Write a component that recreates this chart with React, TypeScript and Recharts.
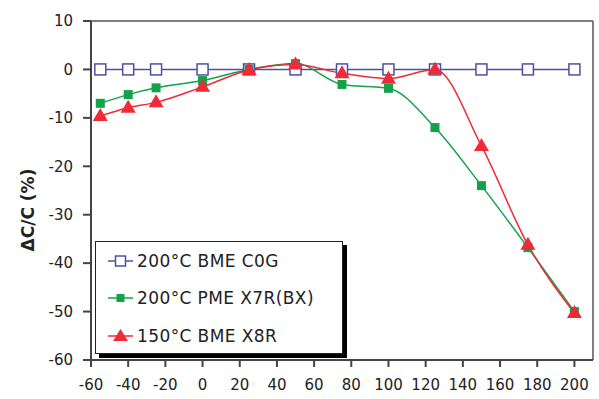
import React from "react";
import {
  LineChart,
  Line,
  XAxis,
  YAxis,
  ReferenceLine,
} from "recharts";

const temps = [-55, -40, -25, 0, 25, 50, 75, 100, 125, 150, 175, 200];
const c0g = [0, 0, 0, 0, 0, 0, 0, 0, 0, 0, 0, 0];
const x7r = [-7, -5.2, -3.8, -2.3, 0, 1.2, -3.1, -3.9, -12, -24, -36.8, -50];
const x8r = [-9.6, -7.9, -6.8, -3.6, -0.1, 1, -0.8, -1.9, 0, -15.8, -36.2, -50.3];
const xTicks = [-60, -40, -20, 0, 20, 40, 60, 80, 100, 120, 140, 160, 180, 200];
const yTicks = [-60, -50, -40, -30, -20, -10, 0, 10];

const seriesNames = ["200°C BME C0G", "200°C PME X7R(BX)", "150°C BME X8R"];

const BLUE = "#4f4f9f";
const GREEN = "#13a24b";
const RED = "#ee2b36";
const FONT = "'DejaVu Sans', sans-serif";

const data = temps.map((t, i) => ({ t, c0g: c0g[i], x7r: x7r[i], x8r: x8r[i] }));

const HollowSquare = (p: any) => (
  <rect
    key={p.key}
    x={p.cx - 5.5}
    y={p.cy - 5.5}
    width={11}
    height={11}
    fill="#fff"
    stroke={BLUE}
    strokeWidth={1.5}
  />
);

const FilledSquare = (p: any) => (
  <rect key={p.key} x={p.cx - 4.5} y={p.cy - 4.5} width={9} height={9} fill={GREEN} />
);

const Triangle = (p: any) => (
  <polygon
    key={p.key}
    points={`${p.cx},${p.cy - 8} ${p.cx - 7.5},${p.cy + 5} ${p.cx + 7.5},${p.cy + 5}`}
    fill={RED}
  />
);

function LegendBox() {
  const rows = [
    { name: seriesNames[0], color: BLUE, marker: "hollow" },
    { name: seriesNames[1], color: GREEN, marker: "square" },
    { name: seriesNames[2], color: RED, marker: "triangle" },
  ];
  return (
    <div
      style={{
        position: "absolute",
        left: 95,
        top: 241,
        width: 248,
        height: 113,
        background: "#fff",
        border: "1.5px solid #222",
        boxShadow: "4px 4px 0 #000",
        fontFamily: FONT,
        fontSize: 17,
        letterSpacing: 0.4,
        color: "#222",
        paddingTop: 0,
        boxSizing: "border-box",
      }}
    >
      {rows.map((r) => (
        <div key={r.name} style={{ display: "flex", alignItems: "center", height: 37.5 }}>
          <svg width={30} height={20} style={{ marginLeft: 10, flexShrink: 0 }}>
            <line x1={2} y1={10} x2={27} y2={10} stroke={r.color} strokeWidth={1.5} />
            {r.marker === "hollow" && (
              <rect x={9.5} y={5} width={10} height={10} fill="#fff" stroke={r.color} strokeWidth={1.5} />
            )}
            {r.marker === "square" && <rect x={10.5} y={6} width={8} height={8} fill={r.color} />}
            {r.marker === "triangle" && (
              <polygon points="14.5,3 7,15 22,15" fill={r.color} />
            )}
          </svg>
          <span style={{ marginLeft: 1, whiteSpace: "nowrap" }}>{r.name}</span>
        </div>
      ))}
    </div>
  );
}

export default function App() {
  return (
    <div style={{ position: "absolute", left: 0, top: 0, width: 599, height: 399, background: "#fff" }}>
      <LineChart
        width={599}
        height={399}
        data={data}
        margin={{ top: 21, right: 6, left: 31, bottom: 9 }}
      >
        <XAxis
          dataKey="t"
          type="number"
          domain={[-60, 210]}
          ticks={xTicks}
          interval={0}
          stroke="#444"
          strokeWidth={2}
          tickSize={7}
          tickMargin={12}
          height={30}
          tick={{ fill: "#222", fontSize: 15, fontFamily: FONT }}
        />
        <YAxis
          type="number"
          domain={[-60, 10]}
          ticks={yTicks}
          interval={0}
          width={60}
          stroke="#444"
          strokeWidth={2}
          tickSize={8}
          tickMargin={10}
          tick={{ fill: "#222", fontSize: 15, fontFamily: FONT }}
          label={{
            content: () => (
              <text
                x={34}
                y={210}
                transform="rotate(-90 34 210)"
                textAnchor="middle"
                fontFamily={FONT}
                fontWeight="bold"
                fontSize={17}
                fill="#222"
              >
                ΔC/C (%)
              </text>
            ),
          }}
        />
        <ReferenceLine y={10} stroke="#555" strokeWidth={1.5} />
        <ReferenceLine x={210} stroke="#555" strokeWidth={1.5} />
        <Line
          type="monotone"
          dataKey="c0g"
          name={seriesNames[0]}
          stroke={BLUE}
          strokeWidth={1.5}
          dot={HollowSquare}
          isAnimationActive={false}
        />
        <Line
          type="monotone"
          dataKey="x7r"
          name={seriesNames[1]}
          stroke={GREEN}
          strokeWidth={1.5}
          dot={FilledSquare}
          isAnimationActive={false}
        />
        <Line
          type="monotone"
          dataKey="x8r"
          name={seriesNames[2]}
          stroke={RED}
          strokeWidth={1.5}
          dot={Triangle}
          isAnimationActive={false}
        />
      </LineChart>
      <LegendBox />
    </div>
  );
}
